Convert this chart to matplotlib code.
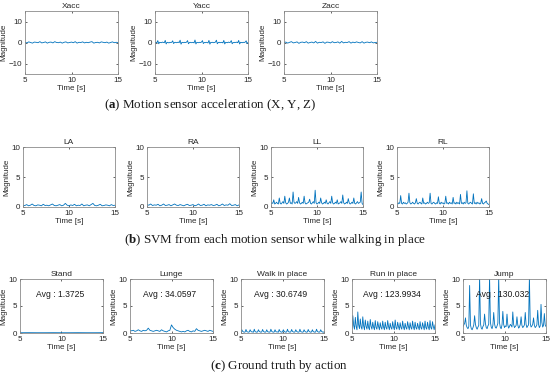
import numpy as np
import matplotlib
matplotlib.use("Agg")
import matplotlib.pyplot as plt

plt.rcParams['font.family'] = ['Liberation Sans', 'DejaVu Sans']
plt.rcParams['mathtext.fontset'] = 'custom'
plt.rcParams['mathtext.rm'] = 'Liberation Serif'
plt.rcParams['mathtext.bf'] = 'Liberation Serif:bold'

LINE = '#0072BD'
SPINE = '#8a8a8a'
FS = 5.8

# ---------------- data ----------------
row_a_titles = ["Xacc", "Yacc", "Zacc"]
xacc = [0.1, -0.2, 0.3, 0.0, -0.3, 0.2, 0.1, -0.1, 0.4, -0.2, 0.0, 0.3, -0.3, 0.1, 0.2, -0.2, 0.4,
        0.0, -0.1, 0.2, -0.3, 0.1, 0.3, -0.2, 0.0, 0.2, -0.1, 0.4, -0.3, 0.1, 0.0, 0.3, -0.2, 0.1,
        -0.1, 0.2, 0.4, -0.3, 0.0, 0.1, -0.2, 0.3, 0.1, -0.1, 0.2, -0.3, 0.0, 0.3, -0.1, 0.1, 0.0]
yacc = [0.0, 0.1, -0.1, 0.9, -0.6, 0.1, 0.0, -0.1, 0.2, 0.0,
        -0.1, 1.0, -0.7, 0.1, 0.0, -0.2, 0.1, 0.0, 0.1, 0.8,
        -0.5, 0.0, 0.1, -0.1, 0.0, 0.2, -0.1, 1.1, -0.8, 0.1,
        0.0, -0.1, 0.1, 0.0, 0.2, 0.9, -0.6, 0.0, 0.1, -0.1,
        0.0, 0.1, -0.2, 1.2, -0.7, 0.1, 0.0, -0.1, 0.1, 0.0,
        0.2, 0.9, -0.5, 0.0, -0.1, 0.1, 0.0, -0.2, 1.0, -0.8,
        0.1, 0.0, 0.1, -0.1, 0.0, 0.2, 1.1, -0.6, 0.0, 0.1,
        -0.1, 0.0, 0.1, -0.2, 1.0, -0.7, 0.1, 0.0, -0.1, 0.2,
        0.0, 0.1, 0.9, -0.6, 0.0, -0.1, 0.1, 0.0, 0.2, -0.1,
        1.0, -0.7, 0.1, 0.0, -0.1, 0.1, 0.0, 0.2, 0.8, -0.5, 0.0]
zacc = [0.0, 0.2, -0.3, 0.1, 0.4, -0.2, 0.0, 0.3, -0.4, 0.1, 0.2, -0.1, 0.4, -0.3, 0.0, 0.2,
        -0.2, 0.5, -0.3, 0.1, 0.0, 0.3, -0.4, 0.2, 0.1, -0.2, 0.4, -0.1, 0.0, 0.3, -0.3, 0.5,
        -0.2, 0.1, 0.0, 0.4, -0.3, 0.2, -0.1, 0.3, 0.0, -0.2, 0.4, -0.3, 0.1, 0.2, -0.1, 0.3,
        -0.2, 0.0, 0.1]

row_b_titles = ["LA", "RA", "LL", "RL"]
svm_la = [0.3, 0.25, 0.4, 0.2, 0.3, 0.5, 0.25, 0.2, 0.35, 0.3,
          0.2, 0.45, 0.25, 0.3, 0.2, 0.35, 0.5, 0.25, 0.2, 0.3,
          0.4, 0.2, 0.3, 0.6, 0.3, 0.2, 0.35, 0.25, 0.45, 0.2,
          0.3, 0.25, 0.5, 0.2, 0.3, 0.35, 0.2, 0.4, 0.6, 0.25,
          0.2, 0.3, 0.45, 0.2, 0.25, 0.35, 0.3, 0.2, 0.4, 0.25, 0.3]
svm_ra = [0.4, 0.3, 0.5, 0.25, 0.35, 0.3, 0.45, 0.2, 0.3, 0.5,
          0.25, 0.3, 0.4, 0.2, 0.35, 0.5, 0.3, 0.25, 0.4, 0.3,
          0.2, 0.35, 0.45, 0.25, 0.3, 0.4, 0.2, 0.3, 0.5, 0.25,
          0.3, 0.45, 0.2, 0.35, 0.3, 0.4, 0.25, 0.3, 0.45, 0.2,
          0.3, 0.5, 0.25, 0.35, 0.3, 0.55, 0.25, 0.3, 0.4, 0.2, 0.35]
svm_ll = [0.5, 0.7, 0.6, 1.2, 0.5, 0.6, 0.8, 0.6, 0.5, 1.5,
          0.6, 0.5, 0.7, 0.9, 0.6, 1.8, 0.7, 0.5, 0.6, 0.8,
          1.5, 0.6, 0.7, 0.5, 2.5, 0.8, 0.6, 0.7, 0.9, 0.6,
          1.6, 0.7, 0.5, 0.6, 0.8, 0.6, 1.8, 0.7, 0.5, 0.6,
          0.7, 0.8, 1.3, 0.6, 0.5, 0.7, 0.9, 0.6, 2.8, 0.7,
          0.5, 0.6, 0.8, 0.6, 1.5, 0.7, 0.5, 0.6, 0.8, 0.6,
          1.2, 0.6, 0.5, 0.7, 0.9, 0.6, 1.8, 0.7, 0.5, 0.6,
          0.8, 0.6, 1.2, 0.5, 0.6, 0.7, 0.9, 0.6, 2.0, 0.7,
          0.5, 0.6, 0.8, 0.6, 1.4, 0.7, 0.5, 0.6, 0.8, 0.6,
          1.5, 0.6, 0.5, 0.7, 0.9, 0.6, 0.7, 0.8, 2.5, 0.6, 0.4]
svm_rl = [0.6, 0.5, 0.7, 0.6, 1.9, 0.6, 0.5, 0.8, 0.6, 0.7,
          0.5, 0.6, 0.8, 2.3, 0.7, 0.5, 0.6, 0.8, 0.6, 0.5,
          0.7, 1.4, 0.6, 0.5, 0.7, 0.8, 0.6, 0.5, 1.5, 0.6,
          0.7, 0.5, 0.6, 0.8, 0.6, 0.7, 2.3, 0.6, 0.5, 0.7,
          0.8, 0.6, 0.5, 0.7, 0.6, 1.7, 0.6, 0.5, 0.8, 0.6,
          0.7, 0.5, 0.6, 1.8, 0.6, 0.7, 0.5, 0.8, 0.6, 0.7,
          0.5, 1.6, 0.6, 0.7, 0.5, 0.8, 0.6, 0.7, 0.5, 2.1,
          0.6, 0.7, 0.5, 0.8, 0.6, 0.7, 2.7, 0.6, 0.5, 0.7,
          0.8, 0.6, 0.5, 2.2, 0.6, 0.7, 0.5, 0.8, 0.6, 0.7,
          0.5, 0.6, 1.4, 0.6, 0.5, 0.7, 0.8, 1.0, 0.6, 0.5, 0.4]

row_c_titles = ["Stand", "Lunge", "Walk in place", "Run in place", "Jump"]
row_c_avgs = ["1.3725", "34.0597", "30.6749", "123.9934", "130.032"]
gt_stand = [0.05, 0.06, 0.05, 0.05, 0.06, 0.05, 0.05, 0.06, 0.05, 0.05, 0.06]
gt_lunge = [0.5, 0.4, 0.5, 0.3, 0.4, 0.6, 0.4, 0.3, 0.5, 0.4,
            0.5, 0.9, 0.5, 0.4, 0.3, 0.4, 0.5, 0.4, 0.3, 0.6,
            0.4, 0.3, 0.2, 0.4, 0.5, 1.5, 1.0, 0.7, 0.5, 0.4,
            0.3, 0.2, 0.3, 0.2, 0.4, 0.5, 0.3, 0.2, 0.4, 0.3,
            0.8, 0.5, 0.4, 0.3, 0.4, 0.5, 0.4, 0.3, 0.5, 0.4, 0.3]
gt_walk = [0.2, 0.6, 0.3, 0.2, 0.15, 0.2, 0.65, 0.25, 0.2, 0.15,
           0.2, 0.6, 0.3, 0.2, 0.2, 0.15, 0.7, 0.25, 0.2, 0.15,
           0.2, 0.6, 0.3, 0.2, 0.15, 0.2, 0.65, 0.3, 0.2, 0.15,
           0.2, 0.6, 0.25, 0.2, 0.15, 0.2, 0.7, 0.3, 0.2, 0.15,
           0.2, 0.6, 0.25, 0.2, 0.2, 0.15, 0.65, 0.3, 0.2, 0.15,
           0.2, 0.6, 0.3, 0.2, 0.15, 0.2, 0.7, 0.25, 0.2, 0.15,
           0.2, 0.65, 0.3, 0.2, 0.15, 0.2, 0.6, 0.3, 0.2, 0.15,
           0.2, 0.7, 0.25, 0.2, 0.15, 0.2, 0.6, 0.3, 0.2, 0.15,
           0.2, 0.65, 0.3, 0.2, 0.15, 0.2, 0.6, 0.25, 0.2, 0.15,
           0.2, 0.7, 0.3, 0.2, 0.15, 0.2, 0.6, 0.3, 0.2, 0.15, 0.2]
gt_run = [0.8, 3.2, 1.4, 0.7, 2.9, 1.2, 0.6, 3.9, 1.5, 0.8,
          2.6, 1.1, 0.7, 3.0, 1.3, 0.6, 2.4, 1.2, 0.7, 2.2,
          1.0, 0.6, 2.5, 1.2, 0.7, 2.0, 1.1, 0.6, 2.3, 1.0,
          0.7, 2.1, 1.2, 0.6, 1.9, 1.0, 0.7, 2.2, 1.1, 0.6,
          2.0, 1.0, 0.7, 2.3, 1.2, 0.6, 1.8, 1.0, 0.7, 2.1,
          1.1, 0.6, 2.4, 1.0, 0.7, 2.0, 1.2, 0.6, 1.9, 1.0,
          0.7, 2.2, 1.1, 0.6, 1.8, 1.0, 0.7, 2.1, 1.2, 0.6,
          1.9, 1.0, 0.7, 2.2, 1.1, 0.6, 2.0, 1.0, 0.7, 1.8,
          1.1, 0.6, 2.1, 1.0, 0.7, 1.9, 1.2, 0.6, 2.2, 1.0,
          0.7, 2.0, 1.1, 0.6, 2.3, 1.0, 0.7, 2.1, 1.2, 0.6, 1.5]
gt_jump = [1.2, 1.5, 1.8, 2.8, 1.4, 1.0, 0.8, 1.2, 8.8, 1.5,
           0.8, 0.6, 1.0, 1.5, 3.2, 1.6, 1.0, 0.7, 1.1, 1.4,
           10.5, 1.8, 0.9, 0.7, 1.2, 1.5, 3.5, 1.8, 1.0, 0.8,
           1.3, 1.6, 10.5, 2.0, 1.1, 0.8, 1.4, 3.8, 1.7, 1.0,
           0.9, 1.3, 1.8, 10.5, 1.9, 1.0, 0.8, 1.5, 4.0, 1.6,
           1.0, 1.3, 1.2, 3.5, 1.5, 0.9, 1.2, 1.6, 1.4, 1.1,
           3.9, 1.6, 1.0, 1.2, 1.4, 3.0, 1.5, 0.9, 1.1, 1.6,
           3.0, 1.4, 1.0, 1.2, 1.5, 3.8, 1.6, 1.0, 1.3, 1.5,
           10.5, 1.8, 1.1, 1.3, 1.6, 2.8, 1.4, 1.0, 1.2, 1.5,
           4.2, 1.6, 1.0, 1.3, 5.3, 2.0, 1.1, 1.4, 3.6, 1.5, 1.2]

captions = [r"($\mathbf{a}$) Motion sensor acceleration (X, Y, Z)",
            r"($\mathbf{b}$) SVM from each motion sensor while walking in place",
            r"($\mathbf{c}$) Ground truth by action"]

# ---------------- figure ----------------
W, H = 550, 376
fig = plt.figure(figsize=(W / 100, H / 100), dpi=100)


def add_ax(left, top, w, h):
    return fig.add_axes([left / W, 1 - (top + h) / H, w / W, h / H])


def style(ax, title, ylim, yticks):
    ax.set_xlim(5, 15)
    ax.set_ylim(*ylim)
    ax.set_xticks([5, 10, 15])
    ax.set_yticks(yticks)
    ax.tick_params(direction='in', length=1.5, width=0.5, labelsize=FS, pad=2,
                   colors='#262626', top=True, right=True)
    for s in ax.spines.values():
        s.set_color(SPINE)
        s.set_linewidth(0.6)
    ax.set_title(title, fontsize=FS + 0.2, pad=2, color='#262626')
    ax.set_xlabel("Time [s]", fontsize=FS, labelpad=1, color='#262626')
    ax.set_ylabel("Magnitude", fontsize=FS, labelpad=1, color='#262626')


def tline(ax, y, lw=0.6):
    t = np.linspace(5, 15, len(y))
    ax.plot(t, y, color=LINE, lw=lw, clip_on=True)


# row a
row_a = [xacc, yacc, zacc]
for left, title, y in zip([25, 155, 284], row_a_titles, row_a):
    ax = add_ax(left, 11, 93, 63)
    tline(ax, y)
    style(ax, title, (-15, 15), [-10, 0, 10])

# row b
row_b = [svm_la, svm_ra, svm_ll, svm_rl]
for left, title, y in zip([23, 147, 271, 397], row_b_titles, row_b):
    ax = add_ax(left, 147, 92, 60)
    tline(ax, y)
    style(ax, title, (0, 10), [0, 5, 10])

# row c
row_c = [gt_stand, gt_lunge, gt_walk, gt_run, gt_jump]
for left, title, y, avg in zip([20, 130, 241, 352, 463], row_c_titles, row_c, row_c_avgs):
    ax = add_ax(left, 279, 83, 54)
    tline(ax, y)
    style(ax, title, (0, 10), [0, 5, 10])
    ax.text(9.8, 7.2, "Avg : " + avg, fontsize=FS + 0.4, ha='center', va='center', color='#1a1a1a')

# captions
for (x, y), cap in zip([(210, 105), (275, 240), (279, 366)], captions):
    fig.text(x / W, 1 - y / H, cap, fontsize=9.4, ha='center', va='center',
             family='Liberation Serif', color='#1a1a1a')

fig.savefig("out.png", dpi=100, facecolor='white')
